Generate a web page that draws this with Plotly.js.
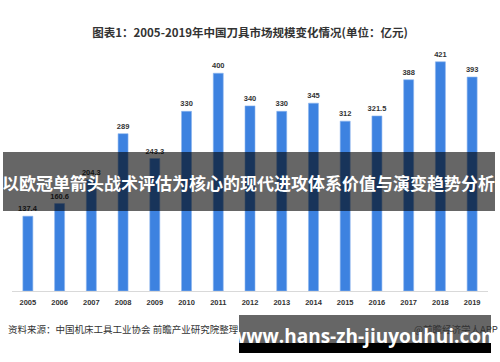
<!DOCTYPE html>
<html>
<head>
<meta charset="utf-8">
<script src="https://cdn.plot.ly/plotly-3.0.1.min.js"></script>
<style>
html,body{margin:0;padding:0;background:#fff;}
#chart{width:500px;height:362px;}
</style>
</head>
<body>
<div id="chart"></div>
<script>
const years = ["2005","2006","2007","2008","2009","2010","2011","2012","2013","2014","2015","2016","2017","2018","2019"];
const marketSize = [137.4,160.6,204.3,289,243.3,330,400,340,330,345,312,321.5,388,421,393];
const chartTitle = "图表1：2005-2019年中国刀具市场规模变化情况(单位：亿元)";
const bannerText = "以欧冠单箭头战术评估为核心的现代进攻体系价值与演变趋势分析";
const sourceText = "资料来源：中国机床工具工业协会 前瞻产业研究院整理";
const creditText = "@前瞻经济学人APP";
const siteText = "www.hans-zh-jiuyouhui.com";

const cjk = '"Noto Sans CJK SC", "Noto Sans", sans-serif';

const trace = {
  type: 'bar',
  x: years,
  y: marketSize,
  text: marketSize.map(v => String(v)),
  textposition: 'outside',
  constraintext: 'none',
  cliponaxis: false,
  textfont: {family: '"Liberation Sans", Arial, sans-serif', size: 7.5, color: '#333', weight: 'bold'},
  marker: {color: '#3d82e0', line: {color: '#8db6ee', width: 0.6}},
  hoverinfo: 'none'
};

const layout = {
  width: 500, height: 362,
  margin: {l: 12, r: 12, t: 46, b: 71},
  paper_bgcolor: '#fff', plot_bgcolor: '#fff',
  showlegend: false,
  bargap: 0.685,
  title: {text: '<b>' + chartTitle + '</b>', x: 0.5, xanchor: 'center', y: 1 - 33/362, yanchor: 'middle', yref: 'container',
          font: {family: cjk, size: 11.5, color: '#333'}},
  xaxis: {
    type: 'category', showline: true, linecolor: '#d9d9d9', linewidth: 1,
    ticks: '', showgrid: false, zeroline: false,
    tickfont: {family: '"Liberation Sans", Arial, sans-serif', size: 7.5, color: '#333', weight: 'bold'},
    ticklabelstandoff: 4
  },
  yaxis: {range: [0, 450], visible: false, showgrid: false, zeroline: false},
  shapes: [
    {type: 'rect', xref: 'paper', yref: 'paper', layer: 'above',
     x0: -9/476, x1: 483/476, y0: (291-211)/245, y1: (291-152)/245,
     fillcolor: 'rgba(0,0,0,0.6)', line: {width: 0}},
    {type: 'rect', xref: 'paper', yref: 'paper', layer: 'above',
     x0: (239-12)/476, x1: (491-12)/476, y0: (291-343)/245, y1: (291-315)/245,
     fillcolor: 'rgba(0,0,0,0.6)', line: {width: 0}},
    {type: 'rect', xref: 'paper', yref: 'paper', layer: 'above',
     x0: (239-12)/476, x1: (491-12)/476, y0: (291-353)/245, y1: (291-343)/245,
     fillcolor: '#000', line: {width: 0}}
  ],
  annotations: [
    {text: '<b>' + bannerText + '</b>', xref: 'paper', yref: 'paper',
     x: (248-12)/476, y: (291-182)/245, xanchor: 'center', yanchor: 'middle', showarrow: false,
     font: {family: cjk, size: 17, color: '#fff'}},
    {text: sourceText, xref: 'paper', yref: 'paper',
     x: (6-12)/476, y: (291-329)/245, xanchor: 'left', yanchor: 'middle', showarrow: false,
     font: {family: cjk, size: 9.5, color: '#333'}},
    {text: creditText, xref: 'paper', yref: 'paper',
     x: (500-12)/476, y: (291-329)/245, xanchor: 'right', yanchor: 'middle', showarrow: false,
     font: {family: cjk, size: 9.5, color: '#333'}},
    {text: '<b>' + siteText + '</b>', xref: 'paper', yref: 'paper',
     x: (365-12)/476, y: (291-336)/245, xanchor: 'center', yanchor: 'middle', showarrow: false,
     font: {family: '"Open Sans", "DejaVu Sans", sans-serif', size: 19, color: '#fff'}}
  ]
};

Plotly.newPlot('chart', [trace], layout, {displayModeBar: false, staticPlot: true});
</script>
</body>
</html>
